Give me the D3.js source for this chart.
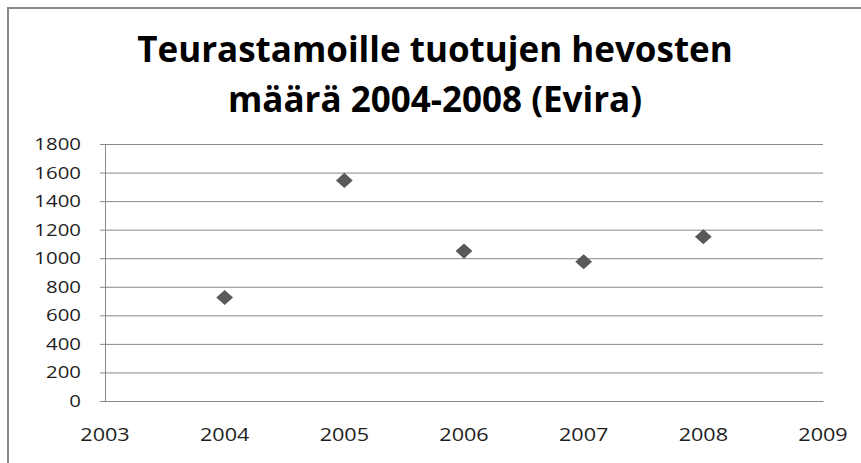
<!DOCTYPE html>
<html>
<head>
<meta charset="utf-8">
<script src="https://cdn.jsdelivr.net/npm/d3@7"></script>
<style>
  html, body { margin: 0; padding: 0; background: #fff; }
  svg { display: block; }
  text { font-family: 'Open Sans', sans-serif; }
</style>
</head>
<body>
<script>
// data
const years = [2004, 2005, 2006, 2007, 2008]
const horses = [725, 1545, 1050, 975, 1150]
const xTicks = [2003, 2004, 2005, 2006, 2007, 2008, 2009]
const yTicks = [0, 200, 400, 600, 800, 1000, 1200, 1400, 1600, 1800]
const titleLines = ['Teurastamoille tuotujen hevosten', 'määrä 2004-2008 (Evira)']

const W = 861
const H = 463
const plot = { left: 105, right: 823, top: 144, bottom: 401 }
const GRID = '#878787'
const LABEL_STRETCH = 1.2

const svg = d3.select('body').append('svg')
  .attr('width', W)
  .attr('height', H)

// chart frame (runs off the right / bottom of the picture)
svg.append('path')
  .attr('d', `M8,${H + 5}V8H${W + 5}`)
  .attr('fill', 'none')
  .attr('stroke', GRID)
  .attr('stroke-width', 2)

const x = d3.scaleLinear().domain([2003, 2009]).range([plot.left, plot.right])
const y = d3.scaleLinear().domain([0, 1800]).range([plot.bottom, plot.top])

// stretched text, anchored at (px, py)
const stretchedText = (g, px, py, str, sx) =>
  g.append('text')
    .attr('transform', `translate(${px},${py}) scale(${sx},1)`)
    .text(str)

// title
const title = svg.append('g')
  .attr('font-weight', 700)
  .attr('font-size', 35)
  .attr('text-anchor', 'middle')
  .attr('fill', '#000')
titleLines.forEach((line, i) =>
  stretchedText(title, 435, 62 + i * 50, line, 1.0))

// horizontal gridlines + y axis
const yAxis = svg.append('g')
  .attr('transform', `translate(${plot.left},0)`)
  .call(d3.axisLeft(y)
    .tickValues(yTicks)
    .tickSize(-(plot.right - plot.left))
    .tickSizeOuter(0)
    .tickFormat(''))
yAxis.select('.domain').attr('stroke', GRID)
yAxis.selectAll('.tick line')
  .attr('stroke', GRID)
  .attr('x1', -5)

const yLabels = svg.append('g')
  .attr('font-size', 17)
  .attr('text-anchor', 'end')
  .attr('fill', '#1e1e1e')
yTicks.forEach(t =>
  stretchedText(yLabels, 81, y(t) + 6, d3.format('d')(t), LABEL_STRETCH))

// x axis (line only) and labels
const xAxis = svg.append('g')
  .attr('transform', `translate(0,${plot.bottom})`)
  .call(d3.axisBottom(x).tickValues([]).tickSizeOuter(0))
xAxis.select('.domain').attr('stroke', GRID)

const xLabels = svg.append('g')
  .attr('font-size', 18)
  .attr('text-anchor', 'middle')
  .attr('fill', '#1e1e1e')
xTicks.forEach(t =>
  stretchedText(xLabels, x(t), 441, d3.format('d')(t), LABEL_STRETCH))

// markers
const diamond = d3.symbol().type(d3.symbolDiamond2).size(180)
svg.append('g')
  .selectAll('path')
  .data(years.map((yr, i) => ({ yr, v: horses[i] })))
  .join('path')
  .attr('d', diamond)
  .attr('transform', d => `translate(${x(d.yr)},${y(d.v)}) scale(1,0.9)`)
  .attr('fill', '#595959')
</script>
</body>
</html>
